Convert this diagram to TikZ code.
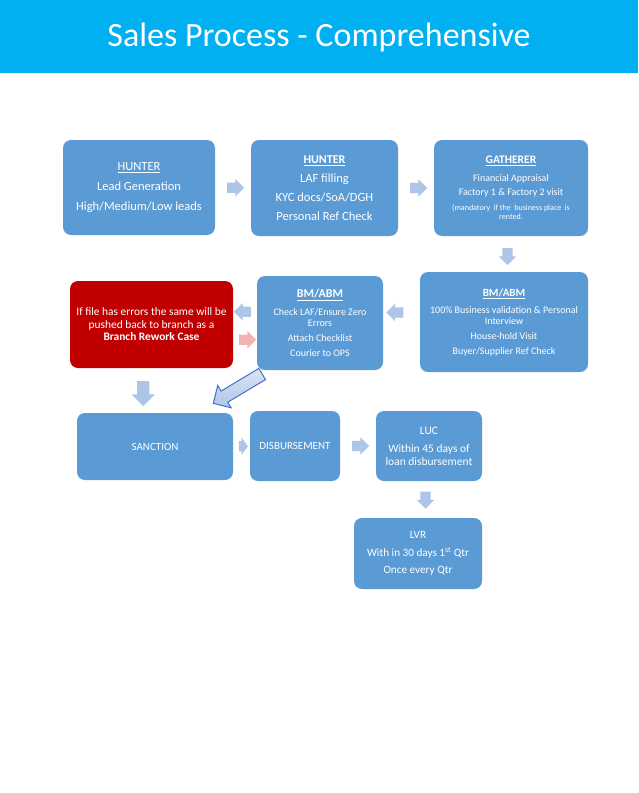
\documentclass[tikz,border=0pt]{standalone}
\usepackage{fontspec}
\setmainfont{Carlito}
\usetikzlibrary{shapes.arrows,calc}

\definecolor{titlecyan}{HTML}{00B0F0}
\definecolor{boxblue}{HTML}{5B9BD5}
\definecolor{boxred}{HTML}{C00000}
\definecolor{arrblue}{HTML}{ADC5E7}
\definecolor{arrpink}{HTML}{F2B3B1}
\definecolor{arrline}{HTML}{4472C4}

\newcommand*{\pgwidth}{638}
\newcommand*{\pgheight}{793}
\newcommand*{\heading}[1]{\textbf{\underline{#1}}}

\begin{document}
\begin{tikzpicture}
[
	x=1pt,y=-1pt,
	stagebox/.style={rounded corners=8pt,fill=boxblue,text=white,align=center,inner sep=0pt},
	reworkbox/.style={stagebox,fill=boxred},
	flowarrow/.style={single arrow,fill=arrblue,inner xsep=0pt,inner ysep=5pt,minimum width=17pt,minimum height=17pt,single arrow head extend=3.5pt},
	bigarrow/.style={single arrow,draw=arrline,line width=1pt,top color=arrblue!45,bottom color=arrblue,inner xsep=0pt,inner ysep=6pt,minimum width=25pt,minimum height=57pt,single arrow head extend=6.5pt,rotate=211}
]

	\useasboundingbox[fill=white] (0,0) rectangle (\pgwidth,\pgheight);

	% title bar
	\fill[titlecyan] (0,0) rectangle (\pgwidth,73);
	\node[text=white,font=\fontsize{34}{40}\selectfont] (title) at (319,37) {Sales Process - Comprehensive};

	% first row
	\node[stagebox,minimum width=152pt,minimum height=95pt,font=\fontsize{12.5}{20}\selectfont] (hunter) at (139,187.5)
		{\underline{HUNTER}\\Lead Generation\\High/Medium/Low leads};
	\node[stagebox,minimum width=147pt,minimum height=96pt,font=\fontsize{12.5}{19}\selectfont] (laf) at (324.5,188)
		{{\fontsize{12}{14}\selectfont\heading{HUNTER}}\\LAF filling\\KYC docs/SoA/DGH\\Personal Ref Check};
	\node[stagebox,minimum width=154pt,minimum height=96pt,font=\fontsize{10}{14}\selectfont] (gatherer) at (511,188)
		{{\fontsize{11.5}{14}\selectfont\heading{GATHERER}}\\[4pt]Financial Appraisal\\Factory 1 \& Factory 2 visit\\[1pt]
		\fontsize{8}{9}\selectfont (mandatory\ \ if the\ \ business\ place\ \ is\\[-5pt]\fontsize{8}{9}\selectfont rented.};

	% second row
	\node[stagebox,minimum width=168pt,minimum height=100pt,font=\fontsize{10}{11}\selectfont] (bmright) at (504,322)
		{{\fontsize{11}{13}\selectfont\heading{BM/ABM}}\\[6pt]100\% Business validation \& Personal\\Interview\\[4pt]House-hold Visit\\[4pt]Buyer/Supplier Ref Check};
	\node[stagebox,minimum width=126pt,minimum height=94pt,font=\fontsize{10}{10.5}\selectfont] (bmmid) at (320,323)
		{{\fontsize{12}{14}\selectfont\heading{BM/ABM}}\\[7.5pt]Check LAF/Ensure Zero\\Errors\\[4.5pt]Attach Checklist\\[4.5pt]Courier to OPS};
	\node[reworkbox,minimum width=163pt,minimum height=87pt,font=\fontsize{11.4}{12.5}\selectfont] (rework) at (151.5,324.5)
		{If file has errors the same will be\\pushed back to branch as a\\\textbf{Branch Rework Case}};

	% third row
	\node[stagebox,minimum width=156pt,minimum height=67pt,font=\fontsize{11}{13}\selectfont] (sanction) at (155,446.5) {SANCTION};
	\node[stagebox,minimum width=90pt,minimum height=70pt,font=\fontsize{11}{13}\selectfont] (disburse) at (295,446) {DISBURSEMENT};
	\node[stagebox,minimum width=106pt,minimum height=70pt,font=\fontsize{11.5}{13}\selectfont] (luc) at (429,446)
		{LUC\\[5pt]Within 45 days of\\loan disbursement};
	\node[stagebox,minimum width=128pt,minimum height=71pt,font=\fontsize{11.2}{17.5}\selectfont] (lvr) at (418,553.5)
		{LVR\\With in 30 days 1\textsuperscript{st} Qtr\\Once every Qtr};

	% flow arrows
	\node[flowarrow] (a1) at ($(hunter.east)!0.5!(laf.west)$) {};
	\node[flowarrow] (a2) at ($(laf.east)!0.5!(gatherer.west)$) {};
	\node[flowarrow,rotate=270] (a3) at ($(gatherer.south)!0.5!(bmright.north)$) {};
	\node[xshift=-4pt,yshift=10pt,flowarrow,rotate=180] (a4) at ($(bmright.west)!0.5!(bmmid.east)$) {};
	\node[yshift=12pt,flowarrow,rotate=180] (a5) at ($(bmmid.west)!0.5!(rework.east)$) {};
	\node[yshift=-16pt,flowarrow,fill=arrpink] (a6) at ($(rework.east)!0.5!(bmmid.west)$) {};
	\node[xshift=-10pt,flowarrow,rotate=270,inner ysep=6pt,minimum width=23pt,minimum height=25pt,single arrow head extend=5.5pt] (a7) at ($(rework.south)!0.5!(sanction.north)$) {};
	\node[xshift=-4.5pt,yshift=4.5pt,bigarrow] (a8) at ($(bmmid.south west)!0.5!(sanction.north east)$) {};
	\node[flowarrow,minimum height=9pt,single arrow tip angle=110] (a9) at ($(sanction.east)!0.5!(disburse.west)$) {};
	\node[flowarrow] (a10) at ($(disburse.east)!0.5!(luc.west)$) {};
	\node[xshift=2pt,yshift=2pt,flowarrow,rotate=270] (a11) at ($(luc.south)!0.5!(lvr.north)$) {};

\end{tikzpicture}
\end{document}
